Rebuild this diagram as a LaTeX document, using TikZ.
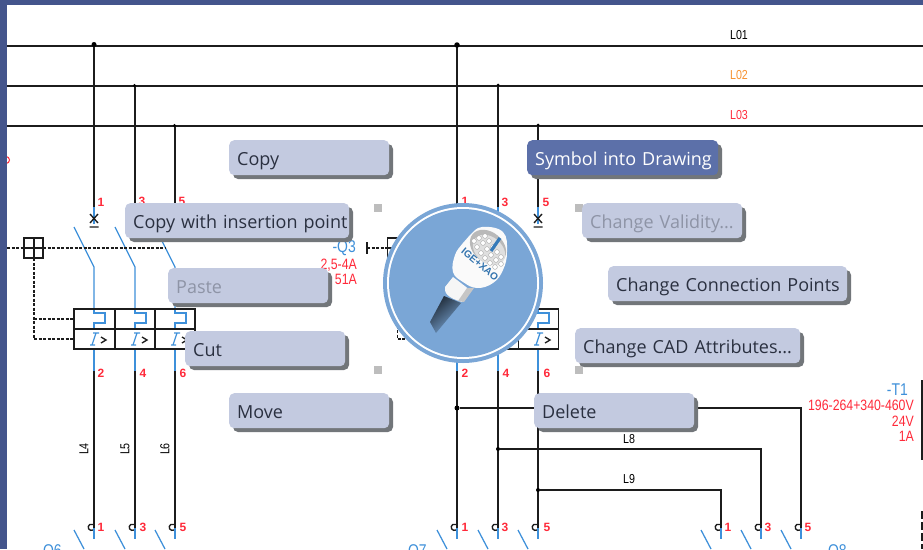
\documentclass[tikz,border=0pt]{standalone}
\usepackage{fontspec}
\usepackage{graphicx}
\setmainfont{Open Sans}
\newfontfamily\schfont{Liberation Sans}
\definecolor{bandc}{HTML}{44558C}
\definecolor{wirec}{HTML}{1C1C1C}
\definecolor{bluec}{HTML}{3E90DA}
\definecolor{redc}{HTML}{FF2A3A}
\definecolor{orangec}{HTML}{F79230}
\definecolor{btnc}{HTML}{C3CAE0}
\definecolor{btnhi}{HTML}{5C70A9}
\definecolor{shadowc}{HTML}{72767A}
\definecolor{discc}{HTML}{7AA6D6}
\definecolor{txtc}{HTML}{2A3040}
\definecolor{dimc}{HTML}{8E94A6}
\definecolor{handc}{HTML}{BDBDBD}
\newcommand{\sch}[1]{\scalebox{.82}[1]{#1}}
\newcommand{\btn}[7]{%
  \pgfmathsetmacro{\bw}{#4-#2}\pgfmathsetmacro{\bh}{#5-#3}\pgfmathsetmacro{\btw}{#4-#2-16}%
  \fill[shadowc,rounded corners=5pt] (#2+4,#3+4) rectangle (#4+4,#5+4);
  \node[btnbase,#7,minimum width=\bw pt,minimum height=\bh pt,text width=\btw pt,anchor=north west] (#1) at (#2,#3) {\makebox[\linewidth][l]{\raisebox{0pt}[18pt][3pt]{#6}}};
}
\newcommand{\pole}[1]{%
  \draw[bw] (#1,309) -- (#1,313) -- (#1+11,313) -- (#1+11,323) -- (#1,323) -- (#1,329);
  \draw[bw] (#1+2,333) -- (#1-2,345) (#1-1,333) -- (#1+5,333) (#1-4,345) -- (#1+1,345);
  \draw[wire,line width=1.3pt] (#1+7,337) -- (#1+12,340) -- (#1+7,343);
}
\newcommand{\contact}[1]{%
  \draw[wire] (#1,528) ++(-1,2) arc (60:300:3.2);
  \draw[bw] (#1,528) -- (#1,539);
  \draw[bw] (#1-20,530) -- (#1-10,549);
}
\newcommand{\xsym}[1]{%
  \draw[bw] (#1,207) -- (#1,224);
  \draw[wire] (#1-4,214) -- (#1+4,223) (#1+4,214) -- (#1-4,223) (#1-4.5,227) -- (#1+4.5,227);
}
\tikzset{
  x=1pt,y=-1pt,
  wire/.style={draw=wirec,line width=1.35pt},
  bw/.style={draw=bluec,line width=1.25pt},
  dashw/.style={draw=wirec,line width=1.25pt,dash pattern=on 3pt off 1.5pt},
  box/.style={draw=wirec,line width=1.3pt},
  dot/.style={circle,fill=black,inner sep=0pt,minimum size=#1},
  num/.style={font=\schfont\bfseries\fontsize{12}{12}\selectfont,text=redc,inner sep=0pt},
  lab/.style={font=\schfont\fontsize{13}{13}\selectfont,inner sep=0pt},
  rlab/.style={font=\schfont\fontsize{15}{15}\selectfont,text=redc,inner sep=0pt,anchor=east},
  blab/.style={font=\schfont\fontsize{17}{17}\selectfont,text=bluec,inner sep=0pt},
  btnbase/.style={fill=btnc,rounded corners=5pt,inner xsep=8pt,inner ysep=0pt,align=left,text=txtc,font=\fontsize{18}{20}\selectfont},
  dimbtn/.style={text=dimc},
  hibtn/.style={fill=btnhi,text=white},
  handle/.style={fill=handc},
}
\begin{document}
\begin{tikzpicture}
\useasboundingbox (0,0) rectangle (923,549);
\clip (0,0) rectangle (923,549);
\fill[white] (0,0) rectangle (923,549);
% red fragment at the left edge
\draw[redc,line width=1pt] (6,160) circle (3.5);
% bus bars
\draw[wire] (7,46) -- (923,46);
\draw[wire] (7,86) -- (923,86);
\draw[wire] (7,126) -- (923,126);
\node[lab] (l01) at (739,35) {\sch{L01}};
\node[lab,text=orangec] (l02) at (739,75) {\sch{L02}};
\node[lab,text=redc] (l03) at (739,115) {\sch{L03}};
% verticals, upper
\foreach \xx/\yy in {94/45,135/86,175/126,457/45,498/86,538/126}{
  \draw[wire] (\xx,\yy) -- (\xx,207);
  \draw[bw] (\xx-20,227) -- (\xx,267) -- (\xx,310);
  \xsym{\xx}
  \pole{\xx}
  \draw[bw] (\xx,349) -- (\xx,371);
  \draw[wire] (\xx,371) -- (\xx,528);
  \contact{\xx}
}
\node[dot=5pt] (d1) at (94,44.5) {};
\node[dot=3.5pt] (d2) at (134.5,85.5) {};
\node[dot=3.5pt] (d3) at (174.5,125.5) {};
\node[dot=5.5pt] (d4) at (457,45) {};
\node[dot=3pt] (d5) at (498,85) {};
\node[dot=3pt] (d6) at (538,125) {};
% numbers
\foreach \n/\xx/\yy in {1/101/202,3/142/201,5/182/201,1/465/201,3/505/202,5/546/202,
  2/101/373,4/143/373,6/183/373,2/465/373,4/506/373,6/547/373,
  1/101/527,3/143/527,5/183/527,1/465/527,3/505/527,5/547/527,1/728/527,3/768/527,5/808/527}{
  \node[num] at (\xx,\yy) {\n};
}
% breaker boxes
\foreach \dx in {0,363.5}{
\begin{scope}[shift={(\dx,0)}]
  \draw[box] (74,309) rectangle (195,349);
  \draw[box] (74,329) -- (195,329) (115,309) -- (115,349) (155,309) -- (155,349);
  \draw[box] (24,238) rectangle (43,258);
  \draw[box] (34,238) -- (34,258) (24,248) -- (43,248);
  \draw[dashw] (34,258) -- (34,339) -- (74,339);
  \draw[dashw] (34,319) -- (74,319);
\end{scope}
}
\draw[dashw] (7,248) -- (165,248);
\draw[dashw] (367,248) -- (390,248);
\draw[wire] (367,242) -- (367,254);
% lower branches
\node[dot=5pt] (j7) at (457,408) {};
\node[dot=4pt] (j8) at (498,449) {};
\node[dot=4pt] (j9) at (538,490) {};
\foreach \xx in {721,761,801}{\contact{\xx}}
\coordinate (c7) at (801,408);
\coordinate (c8) at (761,449);
\coordinate (c9) at (721,490);
\coordinate (e7) at (801,528);
\coordinate (e8) at (761,528);
\coordinate (e9) at (721,528);
\draw[wire] (j7) -- (c7) -- (e7);
\draw[wire] (j8) -- (c8) -- (e8);
\draw[wire] (j9) -- (c9) -- (e9);
\node[lab] (l8) at (629,439) {\sch{L8}};
\node[lab] (l9) at (629,479) {\sch{L9}};
\node[lab,rotate=90] (l4) at (84,449) {\sch{L4}};
\node[lab,rotate=90] (l5) at (125,449) {\sch{L5}};
\node[lab,rotate=90] (l6) at (165,449) {\sch{L6}};
% device labels
\node[blab,anchor=east] (q3) at (356,248) {\sch{-Q3}};
\node[rlab] (q3a) at (357,265) {\sch{2,5-4A}};
\node[rlab] (q3b) at (357,279) {\sch{51A}};
\node[blab,anchor=east] (t1) at (908,390) {\sch{-T1}};
\node[rlab] (t1a) at (914,405) {\sch{196-264+340-460V}};
\node[rlab] (t1b) at (914,421) {\sch{24V}};
\node[rlab] (t1c) at (914,436) {\sch{1A}};
\node[blab] (q6) at (50,552) {\sch{-Q6}};
\node[blab] (q7) at (415,552) {\sch{-Q7}};
\node[blab] (q8) at (835,552) {\sch{-Q8}};
\draw[wire] (922,380) -- (922,460);
\draw[wire,dash pattern=on 8pt off 3pt] (922,511) -- (922,549);
% handles
\foreach \xx/\yy in {378/208,579/208,378/370,579/370}{
  \fill[handle] (\xx-4,\yy-4) rectangle (\xx+4,\yy+4);
}
% disc
\fill[discc] (463,283) circle (80);
\fill[white] (463,283) circle (76);
\fill[discc] (463,283) circle (74);
% plug: cable
\shade[top color=discc,bottom color=discc!25!black,shading angle=-140]
  (430,322) -- (444,296) -- (461,303) -- (436,333) -- cycle;
% plug: neck and head
\fill[white!93!gray] (453,277) -- (445,287) .. controls (444,293) and (448,298) .. (462,302) -- (470,290) -- cycle;
\fill[gray!45] (458,301) -- (467,288) -- (474,288) -- (464,302) -- cycle;
\fill[white!96!gray] plot[smooth cycle,tension=.7] coordinates {(470,235) (482,227) (503,232) (507,252) (503,270) (493,283) (477,288) (463,282) (453,272) (455,255) (463,243)};
\fill[gray!55,rotate around={-40:(488,247)}] (488,247) ellipse (20 and 15);
\fill[gray!25,rotate around={-40:(489,250)}] (489,250) ellipse (18 and 13);
\foreach \a/\b in {474/241,479/238,485/236,477/247,483/243,489/241,481/253,487/249,493/247,485/258,491/255,497/252,490/263,496/260,501/257,501/264,495/267}{
  \fill[white,draw=gray!70,line width=.4pt] (\a,\b) circle (2.4);
}
\draw[bluec!85!black,line width=3.2pt] (491,251) -- (500,238);
\node[font=\schfont\bfseries\fontsize{10}{10}\selectfont,text=bluec!80!black,rotate=-40,inner sep=0pt] (brand) at (480,264) {IGE+XAO};
% buttons
\btn{bcopy}{229}{140}{389}{175}{Copy}{}
\btn{bcwi}{125}{203}{349}{238}{Copy with insertion point}{}
\btn{bpaste}{168}{268}{328}{303}{Paste}{dimbtn}
\btn{bcut}{185}{331}{345}{366}{Cut}{}
\btn{bmove}{229}{393}{389}{428}{Move}{}
\btn{bsym}{527}{140}{718}{175}{Symbol into Drawing}{hibtn}
\btn{bval}{582}{203}{742}{238}{Change Validity...}{dimbtn}
\btn{bconn}{608}{266}{847}{301}{Change Connection Points}{}
\btn{bcad}{575}{328}{800}{363}{Change CAD Attributes...}{}
\btn{bdel}{534}{393}{694}{428}{Delete}{}
% window frame
\fill[bandc] (0,0) rectangle (7,549);
\fill[bandc] (0,0) rectangle (923,5);
\end{tikzpicture}
\end{document}
